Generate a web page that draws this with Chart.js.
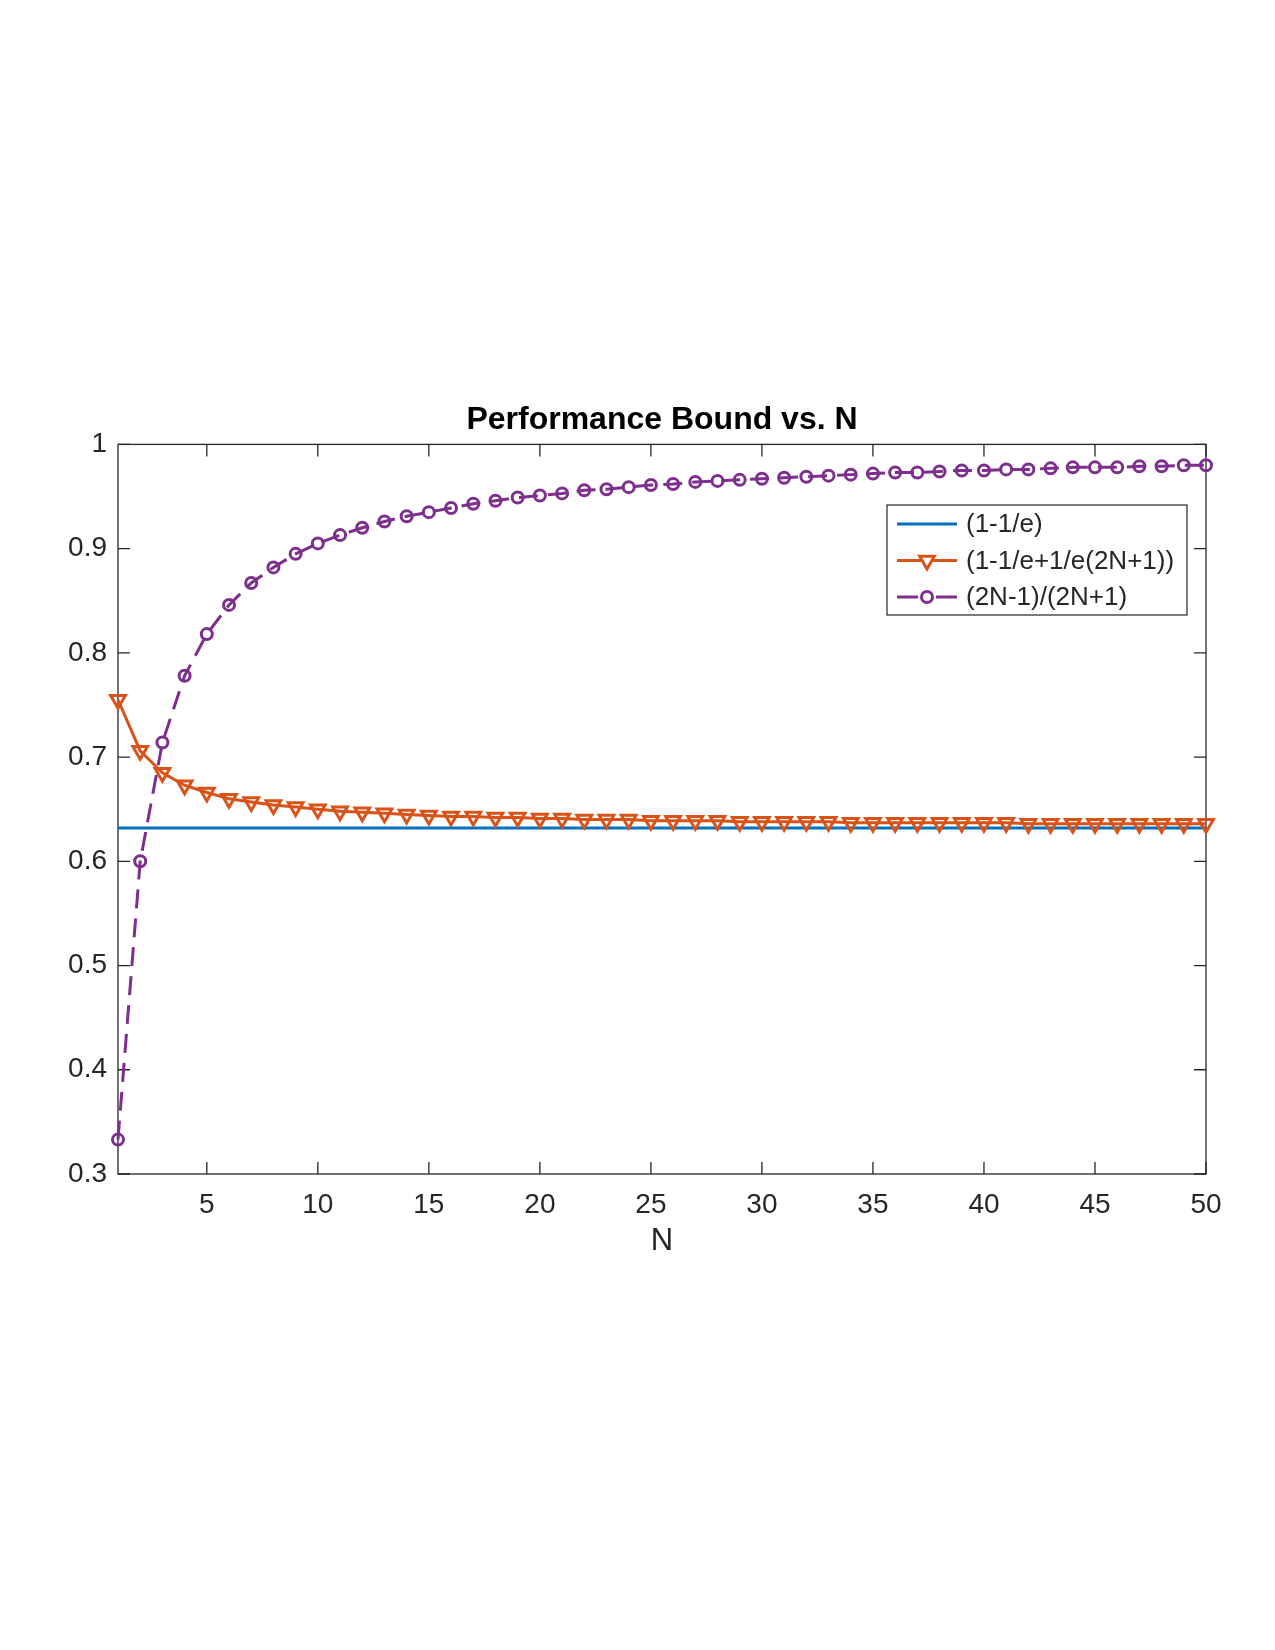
<!DOCTYPE html>
<html>
<head>
<meta charset="utf-8">
<script src="https://cdn.jsdelivr.net/npm/chart.js@4/dist/chart.umd.min.js"></script>
<style>
    body { margin: 0; background: #ffffff; }
    canvas { display: block; }
</style>
</head>
<body>
<canvas id="graficaCota" width="1275" height="1650" style="width:1275px;height:1650px"></canvas>
<script>
//1. Datos
const valoresN = [
    1, 2, 3, 4, 5, 6, 7, 8, 9, 10,
    11, 12, 13, 14, 15, 16, 17, 18, 19, 20,
    21, 22, 23, 24, 25, 26, 27, 28, 29, 30,
    31, 32, 33, 34, 35, 36, 37, 38, 39, 40,
    41, 42, 43, 44, 45, 46, 47, 48, 49, 50
];

// (1-1/e)
const cotaBase = [
    0.632, 0.632, 0.632, 0.632, 0.632, 0.632, 0.632, 0.632, 0.632, 0.632,
    0.632, 0.632, 0.632, 0.632, 0.632, 0.632, 0.632, 0.632, 0.632, 0.632,
    0.632, 0.632, 0.632, 0.632, 0.632, 0.632, 0.632, 0.632, 0.632, 0.632,
    0.632, 0.632, 0.632, 0.632, 0.632, 0.632, 0.632, 0.632, 0.632, 0.632,
    0.632, 0.632, 0.632, 0.632, 0.632, 0.632, 0.632, 0.632, 0.632, 0.632
];

// (1-1/e+1/e(2N+1))
const cotaMejorada = [
    0.755, 0.706, 0.685, 0.673, 0.666, 0.660, 0.657, 0.654, 0.652, 0.650,
    0.648, 0.647, 0.646, 0.645, 0.644, 0.643, 0.643, 0.642, 0.642, 0.641,
    0.641, 0.640, 0.640, 0.640, 0.639, 0.639, 0.639, 0.639, 0.638, 0.638,
    0.638, 0.638, 0.638, 0.637, 0.637, 0.637, 0.637, 0.637, 0.637, 0.637,
    0.637, 0.636, 0.636, 0.636, 0.636, 0.636, 0.636, 0.636, 0.636, 0.636
];

// (2N-1)/(2N+1)
const cotaCociente = [
    0.333, 0.600, 0.714, 0.778, 0.818, 0.846, 0.867, 0.882, 0.895, 0.905,
    0.913, 0.920, 0.926, 0.931, 0.935, 0.939, 0.943, 0.946, 0.949, 0.951,
    0.953, 0.956, 0.957, 0.959, 0.961, 0.962, 0.964, 0.965, 0.966, 0.967,
    0.968, 0.969, 0.970, 0.971, 0.972, 0.973, 0.973, 0.974, 0.975, 0.975,
    0.976, 0.976, 0.977, 0.978, 0.978, 0.978, 0.979, 0.979, 0.980, 0.980
];

const ticksX = [5, 10, 15, 20, 25, 30, 35, 40, 45, 50];
const ticksY = [0.3, 0.4, 0.5, 0.6, 0.7, 0.8, 0.9, 1.0];
const nombresSeries = ["(1-1/e)", "(1-1/e+1/e(2N+1))", "(2N-1)/(2N+1)"];

const colorEjes = "#262626";
Chart.defaults.font.family = "'Liberation Sans', Arial, Helvetica, sans-serif";
Chart.defaults.color = colorEjes;

//2. Pasamos los arrays a puntos {x, y}
const aPuntos = (valores) => valoresN.map((n, i) => ({ x: n, y: valores[i] }));

//3. Plugin para la caja de ejes estilo MATLAB (ticks hacia dentro) y la leyenda
const pluginCaja = {
    id: "cajaMatlab",
    beforeDatasetsDraw(chart) {
        const { ctx, chartArea: a, scales } = chart;
        const largo = 12;
        ctx.save();
        ctx.strokeStyle = colorEjes;
        ctx.lineWidth = 1.3;
        ctx.strokeRect(a.left, a.top, a.right - a.left, a.bottom - a.top);
        ctx.beginPath();
        ticksX.forEach((v) => {
            const px = scales.x.getPixelForValue(v);
            ctx.moveTo(px, a.bottom); ctx.lineTo(px, a.bottom - largo);
            ctx.moveTo(px, a.top); ctx.lineTo(px, a.top + largo);
        });
        ticksY.forEach((v) => {
            const py = scales.y.getPixelForValue(v);
            ctx.moveTo(a.left, py); ctx.lineTo(a.left + largo, py);
            ctx.moveTo(a.right, py); ctx.lineTo(a.right - largo, py);
        });
        ctx.stroke();
        ctx.restore();
    },
    afterDraw(chart) {
        const { ctx } = chart;
        // caja de la leyenda
        const caja = { x: 887, y: 505, w: 300, h: 110 };
        const filas = [524, 560.5, 597];
        ctx.save();
        ctx.fillStyle = "#ffffff";
        ctx.fillRect(caja.x, caja.y, caja.w, caja.h);
        ctx.strokeStyle = colorEjes;
        ctx.lineWidth = 1.2;
        ctx.strokeRect(caja.x, caja.y, caja.w, caja.h);

        chart.data.datasets.forEach((ds, i) => {
            const y = filas[i];
            const x0 = 897, x1 = 957, xm = (x0 + x1) / 2;
            ctx.strokeStyle = ds.borderColor;
            ctx.lineWidth = ds.borderWidth;
            ctx.beginPath();
            if (i === 2) {
                // discontinua: dos trazos a los lados del marcador
                ctx.moveTo(x0, y); ctx.lineTo(x0 + 21, y);
                ctx.moveTo(x1 - 21, y); ctx.lineTo(x1, y);
            } else {
                ctx.moveTo(x0, y); ctx.lineTo(x1, y);
            }
            ctx.stroke();
            ctx.lineWidth = ds.pointBorderWidth || 2;
            if (ds.pointStyle === "triangle") {
                const r = ds.pointRadius;
                ctx.fillStyle = "#ffffff";
                ctx.beginPath();
                ctx.moveTo(xm, y + r);
                ctx.lineTo(xm - r * 0.866, y - r * 0.5);
                ctx.lineTo(xm + r * 0.866, y - r * 0.5);
                ctx.closePath();
                ctx.fill();
                ctx.stroke();
            } else if (ds.pointStyle === "circle" && ds.pointRadius > 0) {
                ctx.fillStyle = "#ffffff";
                ctx.beginPath();
                ctx.arc(xm, y, ds.pointRadius, 0, Math.PI * 2);
                ctx.fill();
                ctx.stroke();
            }
            ctx.fillStyle = colorEjes;
            ctx.font = "26px 'Liberation Sans', Arial, sans-serif";
            ctx.textAlign = "left";
            ctx.textBaseline = "middle";
            ctx.fillText(nombresSeries[i], 966, y + 1);
        });
        ctx.restore();
    }
};

//4. Creamos la gráfica
const graficaCota = new Chart(document.getElementById("graficaCota"), {
    type: "line",
    data: {
        datasets: [{
            label: nombresSeries[0],
            data: aPuntos(cotaBase),
            borderColor: "#0072BD",
            borderWidth: 3,
            pointRadius: 0,
            pointStyle: "circle",
            order: 3,
            clip: false
        }, {
            label: nombresSeries[1],
            data: aPuntos(cotaMejorada),
            borderColor: "#D95319",
            borderWidth: 3,
            pointStyle: "triangle",
            rotation: 180,
            pointRadius: 8.5,
            pointBorderWidth: 3,
            pointBorderColor: "#D95319",
            pointBackgroundColor: "rgba(0,0,0,0)",
            order: 2,
            clip: false
        }, {
            label: nombresSeries[2],
            data: aPuntos(cotaCociente),
            borderColor: "#7E2F8E",
            borderWidth: 3,
            borderDash: [19, 10],
            pointStyle: "circle",
            pointRadius: 5.5,
            pointBorderWidth: 3,
            pointBorderColor: "#7E2F8E",
            pointBackgroundColor: "rgba(0,0,0,0)",
            order: 1,
            clip: false
        }]
    },
    options: {
        responsive: false,
        animation: false,
        devicePixelRatio: 1,
        layout: {
            padding: { left: 0, right: 69, top: 0, bottom: 390 }
        },
        elements: { line: { tension: 0 } },
        plugins: {
            legend: { display: false },
            tooltip: { enabled: false },
            title: {
                display: true,
                text: "Performance Bound vs. N",
                fullSize: false,
                color: "#000000",
                font: { size: 32, weight: "bold" },
                padding: { top: 401, bottom: 5 }
            }
        },
        scales: {
            x: {
                type: "linear",
                min: 1,
                max: 50,
                grid: { display: false },
                border: { display: false },
                afterBuildTicks: (escala) => {
                    escala.ticks = ticksX.map((v) => ({ value: v }));
                },
                afterFit: (escala) => { escala.height = 86; },
                ticks: {
                    padding: 6,
                    maxRotation: 0,
                    font: { size: 28 },
                    color: colorEjes
                },
                title: {
                    display: true,
                    text: "N",
                    font: { size: 31 },
                    color: colorEjes,
                    padding: 0
                }
            },
            y: {
                min: 0.3,
                max: 1,
                grid: { display: false },
                border: { display: false },
                afterBuildTicks: (escala) => {
                    escala.ticks = ticksY.map((v) => ({ value: v }));
                },
                afterFit: (escala) => { escala.width = 118; },
                ticks: {
                    padding: 3,
                    font: { size: 28 },
                    color: colorEjes,
                    callback: (v) => Number(v.toFixed(1)).toString()
                }
            }
        }
    },
    plugins: [pluginCaja]
});
</script>
</body>
</html>
